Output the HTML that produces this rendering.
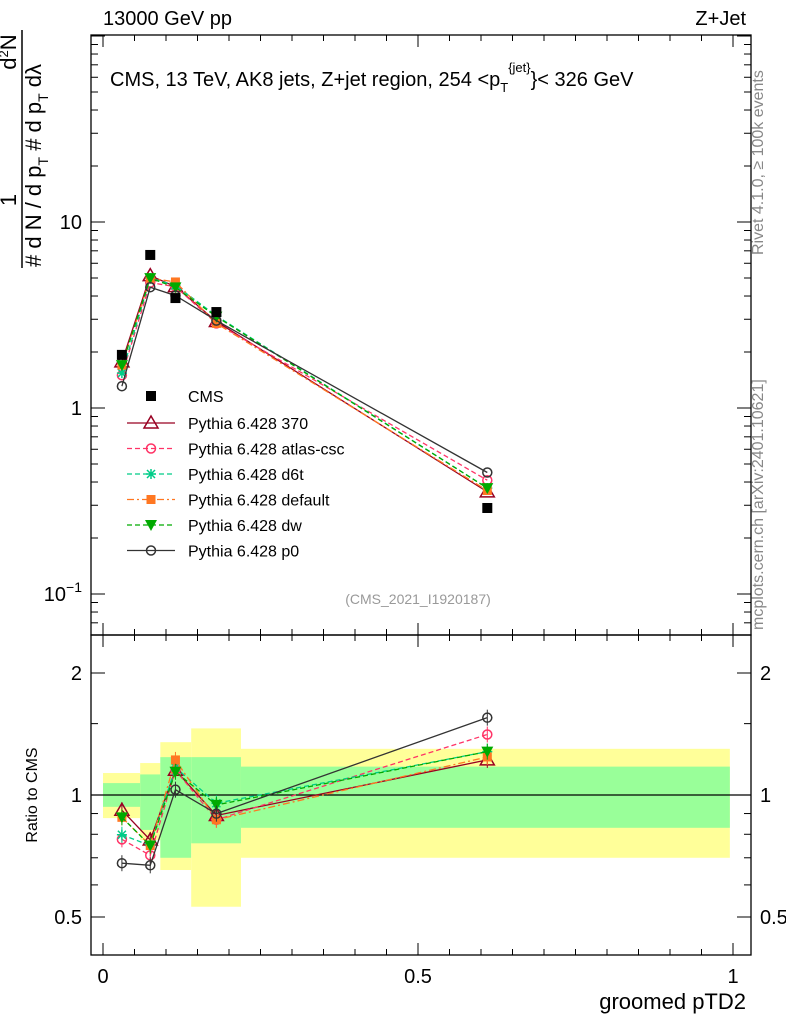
<!DOCTYPE html>
<html><head><meta charset="utf-8"><style>
body{margin:0;background:#fff;}
svg{display:block;font-family:"Liberation Sans",sans-serif;}
</style></head><body>
<svg id="c" width="786" height="1024"></svg>
<script>
const binEdges=[0,0.059,0.091,0.140,0.219,0.995];
const xPts=[0.03,0.075,0.115,0.18,0.61];
const cmsVals=[1.93,6.65,3.9,3.28,0.29];
const s370=[1.77,5.15,4.49,2.92,0.354];
const sAtlas=[1.50,4.72,4.49,2.85,0.409];
const sD6t=[1.54,4.99,4.56,3.13,0.371];
const sDefault=[1.70,4.99,4.76,2.85,0.36];
const sDw=[1.70,4.99,4.45,3.10,0.371];
const sP0=[1.31,4.46,4.02,2.95,0.45];
const yelLo=[0.877,0.774,0.653,0.53,0.70];
const yelHi=[1.133,1.199,1.35,1.46,1.30];
const grnLo=[0.935,0.82,0.70,0.76,0.83];
const grnHi=[1.07,1.124,1.24,1.24,1.175];
const xTicks=[0,0.5,1];
const xTickLabels=["0","0.5","1"];

const NS="http://www.w3.org/2000/svg";
const svg=document.getElementById('c');
function el(t,a,p){const e=document.createElementNS(NS,t);for(const k in a)e.setAttribute(k,a[k]);(p||svg).appendChild(e);return e;}
const X=v=>103+630*v;
const Y=v=>408-186*Math.log10(v);
const R=v=>795-122*Math.log2(v);
const L=91,Rt=751,T=35,M=635,B=955;

for(let i=0;i<5;i++){
 let r=el('rect',{x:X(binEdges[i]),y:R(yelHi[i]),width:X(binEdges[i+1])-X(binEdges[i]),height:R(yelLo[i])-R(yelHi[i]),fill:'#ffff99'});
 
 let g=el('rect',{x:X(binEdges[i]),y:R(grnHi[i]),width:X(binEdges[i+1])-X(binEdges[i]),height:R(grnLo[i])-R(grnHi[i]),fill:'#99ff99'});
 
}
el('line',{x1:L,x2:Rt,y1:R(1),y2:R(1),stroke:'#000','stroke-width':1.3});

let f1=el('rect',{x:L,y:T,width:Rt-L,height:M-T,fill:'none',stroke:'#000','stroke-width':1.3});

let f2=el('rect',{x:L,y:M,width:Rt-L,height:B-M,fill:'none',stroke:'#000','stroke-width':1.3});


for(let v=0;v<=1.0001;v+=0.05){
 const big=Math.abs(v*2-Math.round(v*2))<1e-6;const len=big?12:6;
 for(const [y0,d] of [[M,-1],[T,1],[B,-1],[M,1]]) el('line',{x1:X(v),x2:X(v),y1:y0,y2:y0+d*len,stroke:'#000'});
}
xTicks.forEach((v,i)=>{const t=el('text',{x:X(v),y:983,'font-size':20,'text-anchor':'middle'});t.textContent=xTickLabels[i];
});
let xt=el('text',{x:746,y:1009,'font-size':22,'text-anchor':'end'});xt.textContent='groomed pTD2';


for(let d=-2;d<=2;d++)for(let m=1;m<10;m++){const v=m*Math.pow(10,d);const y=Y(v);if(y<T||y>M)continue;const len=m==1?14:7;
 el('line',{x1:L,x2:L+len,y1:y,y2:y,stroke:'#000'});el('line',{x1:Rt,x2:Rt-len,y1:y,y2:y,stroke:'#000'});}
[[10,'10'],[1,'1']].forEach(([v,s])=>{const t=el('text',{x:82,y:Y(v)+7,'font-size':20,'text-anchor':'end'});t.textContent=s;});
let t01=el('text',{x:82,y:Y(0.1)+7,'font-size':20,'text-anchor':'end'});t01.innerHTML='10<tspan dy="-9" font-size="14">−1</tspan>';


for(const v of [0.5,0.6,0.7,0.8,0.9,1,1.5,2]){const y=R(v);if(y<M)continue;const len=(v==0.5||v==1||v==2)?14:7;
 el('line',{x1:L,x2:L+len,y1:y,y2:y,stroke:'#000'});el('line',{x1:Rt,x2:Rt-len,y1:y,y2:y,stroke:'#000'});}
for(const [v,s] of [[2,'2'],[1,'1'],[0.5,'0.5']]){
 let a=el('text',{x:82,y:R(v)+7,'font-size':20,'text-anchor':'end'});a.textContent=s;
 let b=el('text',{x:760,y:R(v)+7,'font-size':20});b.textContent=s;
}
let ry=el('text',{x:0,y:0,'font-size':16,'text-anchor':'middle',transform:'translate(37,795) rotate(-90)'});ry.textContent='Ratio to CMS';


// main y title (rotated fraction)
const yg=el('g',{});
let den=el('text',{x:0,y:0,'font-size':22,transform:'translate(41,267) rotate(-90)'},yg);
den.innerHTML='# d N / d p<tspan font-size="14" dy="7">T</tspan><tspan dy="-7"> # d p</tspan><tspan font-size="14" dy="7">T</tspan><tspan dy="-7"> dλ</tspan>';
el('line',{x1:22,x2:22,y1:30,y2:268,stroke:'#000','stroke-width':1.5},yg);
let n1=el('text',{x:0,y:0,'font-size':22,'text-anchor':'middle',transform:'translate(16,200) rotate(-90)'},yg);n1.textContent='1';
let n2=el('text',{x:0,y:0,'font-size':22,'text-anchor':'middle',transform:'translate(16,52) rotate(-90)'},yg);
n2.innerHTML='d<tspan font-size="13" dy="-8">2</tspan><tspan dy="8">N</tspan>';

let h1=el('text',{x:103,y:25,'font-size':20});h1.textContent='13000 GeV pp';
let h2=el('text',{x:746,y:25,'font-size':20,'text-anchor':'end'});h2.textContent='Z+Jet';
let ti=el('text',{x:110,y:86,'font-size':20});ti.innerHTML='CMS, 13 TeV, AK8 jets, Z+jet region, 254 &lt;p<tspan font-size="13" dy="6">T</tspan><tspan font-size="13" dy="-20">{jet}</tspan><tspan dy="14">}&lt; 326 GeV</tspan>';

let wm=el('text',{x:418,y:604,'font-size':14,'text-anchor':'middle',fill:'#999'});wm.textContent='(CMS_2021_I1920187)';

let sv1=el('text',{x:0,y:0,'font-size':16,fill:'#888',transform:'translate(763,255) rotate(-90)'});sv1.textContent='Rivet 4.1.0, ≥ 100k events';

let sv2=el('text',{x:0,y:0,'font-size':16,fill:'#888',transform:'translate(763,630) rotate(-90)'});sv2.textContent='mcplots.cern.ch [arXiv:2401.10621]';


const series=[
 {name:'Pythia 6.428 370',vals:s370,col:'#990022',dash:'',mk:'tri'},
 {name:'Pythia 6.428 atlas-csc',vals:sAtlas,col:'#ff3366',dash:'5,3',mk:'circ'},
 {name:'Pythia 6.428 d6t',vals:sD6t,col:'#00cc88',dash:'5,3',mk:'star'},
 {name:'Pythia 6.428 default',vals:sDefault,col:'#ff7722',dash:'7,3,2,3',mk:'sq'},
 {name:'Pythia 6.428 dw',vals:sDw,col:'#00aa00',dash:'5,3',mk:'dtri'},
 {name:'Pythia 6.428 p0',vals:sP0,col:'#333333',dash:'',mk:'circ'}];
function marker(mk,x,y,col,g){
 if(mk=='tri')el('polygon',{points:`${x},${y-7} ${x-7},${y+5} ${x+7},${y+5}`,fill:'none',stroke:col,'stroke-width':1.5},g);
 else if(mk=='circ')el('circle',{cx:x,cy:y,r:4.5,fill:'none',stroke:col,'stroke-width':1.5},g);
 else if(mk=='sq')el('rect',{x:x-4.5,y:y-4.5,width:9,height:9,fill:col},g);
 else if(mk=='dtri')el('polygon',{points:`${x},${y+6} ${x-6},${y-5} ${x+6},${y-5}`,fill:col},g);
 else if(mk=='star'){el('path',{d:`M${x-5} ${y}H${x+5}M${x} ${y-5}V${y+5}M${x-4} ${y-4}L${x+4} ${y+4}M${x-4} ${y+4}L${x+4} ${y-4}`,stroke:col,'stroke-width':1.5},g);}
}
series.forEach((s,si)=>{
 const g=el('g',{});
 el('polyline',{points:xPts.map((x,i)=>X(x)+','+Y(s.vals[i])).join(' '),fill:'none',stroke:s.col,'stroke-width':1.3,'stroke-dasharray':s.dash},g);
 xPts.forEach((x,i)=>marker(s.mk,X(x),Y(s.vals[i]),s.col,g));
 const rg=el('g',{});
 el('polyline',{points:xPts.map((x,i)=>X(x)+','+R(s.vals[i]/cmsVals[i])).join(' '),fill:'none',stroke:s.col,'stroke-width':1.3,'stroke-dasharray':s.dash},rg);
 xPts.forEach((x,i)=>{const y=R(s.vals[i]/cmsVals[i]);el('line',{x1:X(x),x2:X(x),y1:y-8,y2:y+8,stroke:s.col},rg);marker(s.mk,X(x),y,s.col,rg);});
 const ly=423+si*25.5;
 const lg=el('g',{});
 el('line',{x1:127,x2:175,y1:ly,y2:ly,stroke:s.col,'stroke-width':1.3,'stroke-dasharray':s.dash},lg);
 marker(s.mk,151,ly,s.col,lg);
 const t=el('text',{x:188,y:ly+6,'font-size':16},lg);t.textContent=s.name;
});
const cg=el('g',{});
xPts.forEach((x,i)=>el('rect',{x:X(x)-5,y:Y(cmsVals[i])-5,width:10,height:10,fill:'#000'},cg));
const cl=el('g',{});
el('rect',{x:146,y:391,width:10,height:10,fill:'#000'},cl);
const ct=el('text',{x:188,y:402,'font-size':16},cl);ct.textContent='CMS';
</script>
</body></html>
